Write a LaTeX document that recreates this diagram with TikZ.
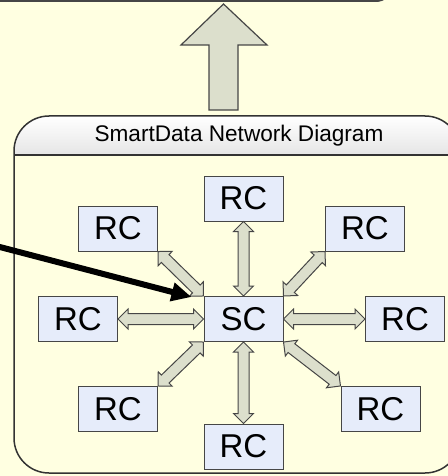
\documentclass[tikz,border=0pt]{standalone}
\usepackage{fontspec}
\setmainfont{Liberation Sans}
\usetikzlibrary{arrows.meta,calc,shapes.arrows}
\definecolor{bgyellow}{RGB}{255,255,225}
\definecolor{boxfill}{RGB}{230,236,250}
\definecolor{arrowfill}{RGB}{220,223,204}
\definecolor{edgegray}{RGB}{70,70,70}
\tikzset{
  rcbox/.style={rectangle,draw=edgegray,fill=boxfill,line width=0.5pt,
    minimum width=39.5pt,minimum height=22.5pt,inner sep=0pt,
    font=\fontsize{16.5}{16.5}\selectfont},
  linkarrow/.style={double arrow,draw=edgegray,fill=arrowfill,line width=0.5pt,
    inner sep=2.5pt,minimum width=9.5pt,double arrow head extend=2.25pt,
    double arrow tip angle=90}
}
\newcommand{\sclink}[2]{\path let \p1=($(#2)-(#1)$) in
  node[linkarrow,minimum height={veclen(\x1,\y1)},rotate={atan2(\y1,\x1)}]
  at ($(#1)!0.5!(#2)$) {};}

\begin{document}
\begin{tikzpicture}[x=0.5pt,y=-0.5pt]
\fill[bgyellow] (0,0) rectangle (448,476);
\useasboundingbox (0,0) rectangle (448,476);
% box above, cut by the page
\draw[edgegray,line width=1pt,rounded corners=8pt] (-20,-40) rectangle (392,1);
% big arrow up
\draw[edgegray,fill=arrowfill,line width=0.6pt] (209,110) -- (209,45) -- (181,45)
  -- (223.5,4) -- (267,45) -- (238,45) -- (238,110) -- cycle;
% network panel
\begin{scope}
\clip[rounded corners=17.5pt] (14,116) rectangle (460,473);
\shade[top color=white,bottom color=black!10] (14,116) rectangle (460,155);
\end{scope}
\draw[black!80,line width=0.75pt,rounded corners=17.5pt] (14,116) rectangle (460,473);
\draw[black!80,line width=0.75pt] (14,155) -- (460,155);
\node[font=\fontsize{11.3}{11.3}\selectfont] (title) at (239,136) {SmartData Network Diagram};

\node[rcbox] (sc) at (243.5,319) {SC};
\node[rcbox] (rcn) at (243.5,198.5) {RC};
\node[rcbox] (rcnw) at (118,228.5) {RC};
\node[rcbox] (rcne) at (365,228.5) {RC};
\node[rcbox] (rcw) at (78,319) {RC};
\node[rcbox] (rce) at (405,319) {RC};
\node[rcbox] (rcsw) at (118,409) {RC};
\node[rcbox] (rcse) at (380.5,409) {RC};
\node[rcbox] (rcs) at (243.5,446.5) {RC};

\sclink{sc.north}{rcn.south}
\sclink{sc.north west}{rcnw.south east}
\sclink{sc.north east}{rcne.south west}
\sclink{sc.west}{rcw.east}
\sclink{sc.east}{rce.west}
\sclink{sc.south west}{rcsw.north east}
\sclink{sc.south east}{rcse.north west}
\sclink{sc.south}{rcs.north}

% incoming link
\coordinate (feed) at (-4,246);
\draw[line width=3pt,-{Triangle[length=10pt,width=9pt]}] (feed) -- ([xshift=-6pt,yshift=-0.5pt]sc.north west);
\end{tikzpicture}
\end{document}
